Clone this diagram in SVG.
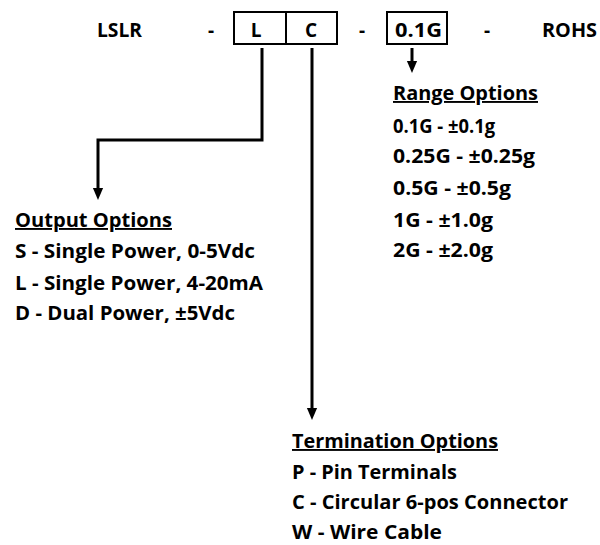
<svg xmlns="http://www.w3.org/2000/svg" width="600" height="545" viewBox="0 0 600 545">
<style>
text{font-family:"Open Sans","Liberation Sans",sans-serif;font-weight:bold;font-size:19px;fill:#000}
.h{text-decoration:underline}
.box{fill:none;stroke:#000;stroke-width:2}
.conn{fill:none;stroke:#000;stroke-width:3}
</style>
<defs>
<marker id="ah" markerWidth="4" markerHeight="4" refX="2" refY="2" orient="auto" markerUnits="strokeWidth">
<path d="M0,0.3 L4,2 L0,3.7 Z" fill="#000"/>
</marker>
</defs>
<rect width="600" height="545" fill="#fff"/>
<g id="part-number">
<text x="97" y="37" textLength="45" lengthAdjust="spacingAndGlyphs">LSLR</text>
<text x="208" y="37">-</text>
<rect class="box" x="234" y="12" width="103" height="32"/>
<line x1="286" y1="12" x2="286" y2="44" stroke="#000" stroke-width="2"/>
<text x="256" y="37" text-anchor="middle">L</text>
<text x="311" y="37" text-anchor="middle">C</text>
<text x="359" y="37">-</text>
<rect class="box" x="387" y="12" width="60" height="32"/>
<text x="395" y="37" textLength="47" lengthAdjust="spacingAndGlyphs">0.1G</text>
<text x="484" y="37">-</text>
<text x="542" y="37" textLength="55" lengthAdjust="spacingAndGlyphs">ROHS</text>
</g>
<g id="connectors">
<path class="conn" d="M262,48 V140 H98 V194" marker-end="url(#ah)"/>
<path class="conn" d="M312,48 V414" marker-end="url(#ah)"/>
<path class="conn" d="M412,48 V67" marker-end="url(#ah)"/>
</g>
<g id="range-options">
<text class="h" x="393" y="100" textLength="145" lengthAdjust="spacingAndGlyphs">Range Options</text>
<text x="393" y="133" textLength="102" lengthAdjust="spacingAndGlyphs">0.1G - ±0.1g</text>
<text x="393" y="163" textLength="142" lengthAdjust="spacingAndGlyphs">0.25G - ±0.25g</text>
<text x="393" y="195" textLength="118" lengthAdjust="spacingAndGlyphs">0.5G - ±0.5g</text>
<text x="393" y="227" textLength="100" lengthAdjust="spacingAndGlyphs">1G - ±1.0g</text>
<text x="393" y="257" textLength="100" lengthAdjust="spacingAndGlyphs">2G - ±2.0g</text>
</g>
<g id="output-options">
<text class="h" x="15" y="227" textLength="157" lengthAdjust="spacingAndGlyphs">Output Options</text>
<text x="15" y="258" textLength="240" lengthAdjust="spacingAndGlyphs">S - Single Power, 0-5Vdc</text>
<text x="15" y="290" textLength="248" lengthAdjust="spacingAndGlyphs">L - Single Power, 4-20mA</text>
<text x="15" y="320" textLength="220" lengthAdjust="spacingAndGlyphs">D - Dual Power, ±5Vdc</text>
</g>
<g id="termination-options">
<text class="h" x="292" y="448" textLength="206" lengthAdjust="spacingAndGlyphs">Termination Options</text>
<text x="292" y="479" textLength="165" lengthAdjust="spacingAndGlyphs">P - Pin Terminals</text>
<text x="292" y="509" textLength="276" lengthAdjust="spacingAndGlyphs">C - Circular 6-pos Connector</text>
<text x="292" y="539" textLength="150" lengthAdjust="spacingAndGlyphs">W - Wire Cable</text>
</g>
</svg>
